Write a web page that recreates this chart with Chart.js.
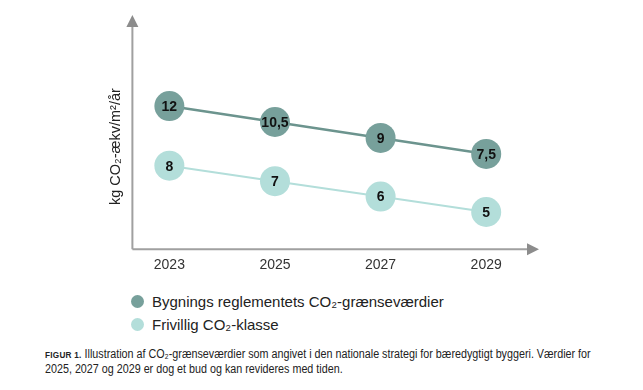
<!DOCTYPE html>
<html>
<head>
<meta charset="UTF-8">
<title>CO2-grænseværdier</title>
<script src="https://cdn.jsdelivr.net/npm/chart.js"></script>
<style>
    body { margin: 0; background: #fff; font-family: "Liberation Sans", Arial, sans-serif; }
    .wrap { position: relative; width: 643px; height: 390px; }
    .plot { position: absolute; left: 0; top: 0; width: 643px; height: 274px; }
    .legend { position: absolute; left: 131px; top: 292px; font-size: 15px; color: #222; }
    .legend div { height: 23px; line-height: 20px; }
    .legend span.dot { display: inline-block; width: 13px; height: 13px; border-radius: 50%;
        vertical-align: -1px; margin-right: 8px; }
    .caption { position: absolute; left: 45px; top: 347px; width: 700px; white-space: nowrap;
        font-family: "Liberation Sans", Arial, sans-serif; font-size: 12.5px; line-height: 15px; color: #222;
        transform: scaleX(0.86); transform-origin: left top; }
    .caption b { font-size: 9.5px; letter-spacing: 0.3px; }
</style>
</head>
<body>
<div class="wrap">
    <div class="plot"><canvas id="c"></canvas></div>
    <div class="legend" id="legend"></div>
    <div class="caption"><b>FIGUR 1.</b> Illustration af CO₂-grænseværdier som angivet i den nationale strategi for bæredygtigt byggeri. Værdier for<br>2025, 2027 og 2029 er dog et bud og kan revideres med tiden.</div>
</div>
<script>
    // data
    const years = [2023, 2025, 2027, 2029];
    const reglement = [12, 10.5, 9, 7.5];
    const frivillig = [8, 7, 6, 5];
    const seriesNames = ['Bygnings reglementets CO₂-grænseværdier', 'Frivillig CO₂-klasse'];
    const seriesColors = ['#77a09b', '#b3deda'];
    const lineColors = ['#6c948e', '#b3deda'];
    const yTitle = 'kg CO₂-ækv/m²/år';

    // legend
    const legendDiv = document.getElementById('legend');
    seriesNames.forEach((name, i) => {
        const row = document.createElement('div');
        row.innerHTML = '<span class="dot" style="background:' + seriesColors[i] + '"></span>' + name;
        legendDiv.appendChild(row);
    });

    // akser med pile
    const arrowAxes = {
        id: 'arrowAxes',
        afterDraw(chart) {
            const ctx = chart.ctx;
            const a = chart.chartArea;
            const x0 = a.left, y0 = a.bottom;
            ctx.save();
            ctx.strokeStyle = '#a0a0a0';
            ctx.fillStyle = '#8c8c8c';
            ctx.lineWidth = 2;
            ctx.beginPath();
            ctx.moveTo(x0, y0);
            ctx.lineTo(x0, 26);
            ctx.moveTo(x0, y0);
            ctx.lineTo(a.right - 10, y0);
            ctx.stroke();
            ctx.beginPath();
            ctx.moveTo(x0, 15);
            ctx.lineTo(x0 - 6, 27);
            ctx.lineTo(x0 + 6, 27);
            ctx.closePath();
            ctx.fill();
            ctx.beginPath();
            ctx.moveTo(a.right, y0);
            ctx.lineTo(a.right - 12, y0 - 6);
            ctx.lineTo(a.right - 12, y0 + 6);
            ctx.closePath();
            ctx.fill();
            ctx.restore();
        }
    };

    // værdier i cirklerne
    const pointLabels = {
        id: 'pointLabels',
        afterDatasetsDraw(chart) {
            const ctx = chart.ctx;
            ctx.save();
            ctx.font = 'bold 14px "Liberation Sans", Arial, sans-serif';
            ctx.fillStyle = '#111';
            ctx.textAlign = 'center';
            ctx.textBaseline = 'middle';
            chart.data.datasets.forEach((ds, i) => {
                chart.getDatasetMeta(i).data.forEach((pt, j) => {
                    ctx.fillText(String(ds.data[j].y).replace('.', ','), pt.x, pt.y + 1);
                });
            });
            ctx.restore();
        }
    };

    new Chart(document.getElementById('c'), {
        type: 'line',
        data: {
            datasets: [
                {
                    label: seriesNames[0],
                    data: years.map((y, i) => ({ x: y, y: reglement[i] })),
                    yAxisID: 'y',
                    borderColor: lineColors[0],
                    borderWidth: 2.5,
                    backgroundColor: seriesColors[0],
                    pointBackgroundColor: seriesColors[0],
                    pointBorderWidth: 0,
                    pointRadius: 15,
                    pointHoverRadius: 15
                },
                {
                    label: seriesNames[1],
                    data: years.map((y, i) => ({ x: y, y: frivillig[i] })),
                    yAxisID: 'y2',
                    borderColor: lineColors[1],
                    borderWidth: 2,
                    backgroundColor: seriesColors[1],
                    pointBackgroundColor: seriesColors[1],
                    pointBorderWidth: 0,
                    pointRadius: 15,
                    pointHoverRadius: 15
                }
            ]
        },
        options: {
            responsive: true,
            maintainAspectRatio: false,
            animation: false,
            layout: { padding: { left: 107, right: 104, top: 44, bottom: 0 } },
            plugins: { legend: { display: false }, tooltip: { enabled: false } },
            scales: {
                x: {
                    type: 'linear',
                    min: 2022.3,
                    max: 2030,
                    grid: { display: false },
                    border: { display: false },
                    afterBuildTicks: s => { s.ticks = years.map(v => ({ value: v })); },
                    ticks: {
                        padding: 0,
                        color: '#333',
                        font: { size: 14, family: '"Liberation Sans", Arial, sans-serif' },
                        callback: v => String(v)
                    }
                },
                y: {
                    min: -1.45,
                    max: 17.83,
                    grid: { display: false },
                    border: { display: false },
                    ticks: { display: false },
                    title: {
                        display: true,
                        text: yTitle,
                        color: '#222',
                        font: { size: 14.5, family: '"Liberation Sans", Arial, sans-serif' },
                        padding: { top: 0, bottom: 0 }
                    }
                },
                y2: {
                    display: false,
                    min: 2.59,
                    max: 15.89
                }
            }
        },
        plugins: [arrowAxes, pointLabels]
    });
</script>
</body>
</html>
